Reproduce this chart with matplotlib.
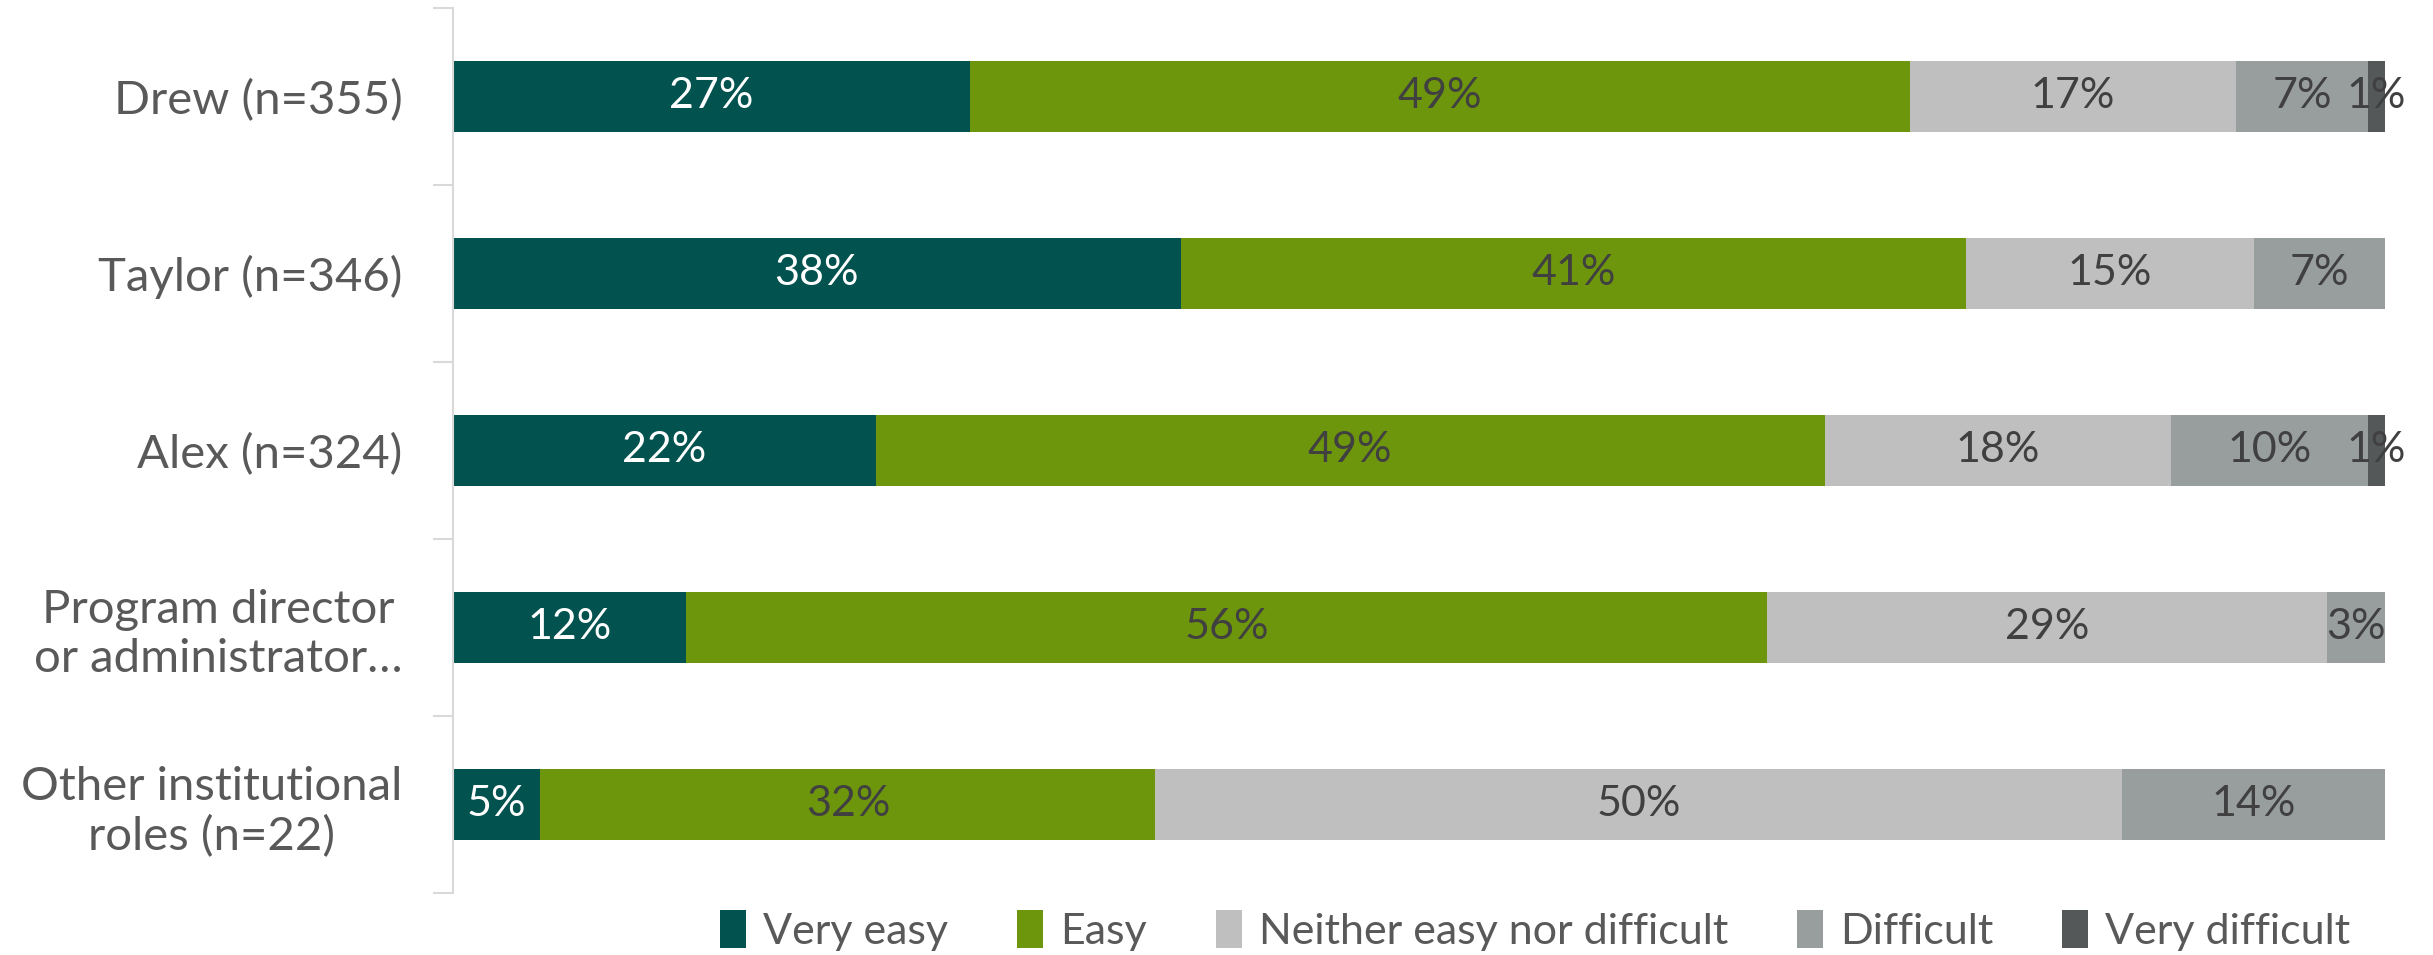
import matplotlib.pyplot as plt
import numpy as np

# Share of respondents (%) per answer, one list per answer
categories = ["Drew (n=355)", "Taylor (n=346)", "Alex (n=324)",
              "Program director\nor administrator\u2026",
              "Other institutional\nroles (n=22)"]
very_easy = [26.8, 37.7, 21.9, 12.1, 4.55]
easy = [48.6, 40.6, 49.1, 55.9, 31.82]
neither = [16.9, 14.9, 17.9, 29.0, 50.0]
difficult = [6.8, 6.8, 10.2, 3.0, 13.64]
very_difficult = [0.9, 0.0, 0.9, 0.0, 0.0]

series_names = ["Very easy", "Easy", "Neither easy nor difficult",
                "Difficult", "Very difficult"]
colors = ["#02524F", "#6E960D", "#BFBFBF", "#989D9D", "#545859"]
label_colors = ["white", "#404040", "#404040", "#404040", "#404040"]

plt.rcParams['font.family'] = ['Lato', 'DejaVu Sans']

fig = plt.figure(figsize=(24.33, 9.55), dpi=100)
ax = fig.add_axes([0.186, 0.065, 0.7943, 0.9268])

series = [very_easy, easy, neither, difficult, very_difficult]
y = np.arange(len(categories))
left = np.zeros(len(categories))
for vals, name, col, lcol in zip(series, series_names, colors, label_colors):
    vals = np.array(vals)
    bars = ax.barh(y, vals, left=left, height=0.4, color=col, label=name)
    for rect, v in zip(bars, vals):
        if v <= 0:
            continue
        ax.text(rect.get_x() + rect.get_width() / 2, rect.get_y() + rect.get_height() / 2,
                f"{v:.0f}%", ha='center', va='center', color=lcol, fontsize=31)
    left += vals

ax.set_xlim(0, 100)
ax.set_ylim(len(categories) - 0.5, -0.5)
ax.set_xticks([])
# category borders as major ticks, names as minor ticks
ax.set_yticks(np.arange(len(categories) + 1) - 0.5, minor=False)
ax.set_yticklabels([])
ax.set_yticks(y, minor=True)
ax.set_yticklabels(categories, minor=True, fontsize=34, color="#595959",
                   multialignment='center')
ax.tick_params(axis='y', which='major', length=14.4, color="#D9D9D9", width=1.5)
ax.tick_params(axis='y', which='minor', length=0, pad=36)

for s in ['top', 'right', 'bottom']:
    ax.spines[s].set_visible(False)
ax.spines['left'].set_color("#D9D9D9")
ax.spines['left'].set_linewidth(1.5)

fig.legend(loc='center', bbox_to_anchor=(0.631, 0.026), ncol=5, frameon=False,
           fontsize=31, labelcolor="#595959",
           handlelength=0.6, handleheight=1.0,
           handletextpad=0.4, columnspacing=1.6)

fig.savefig("out.png", dpi=100)
